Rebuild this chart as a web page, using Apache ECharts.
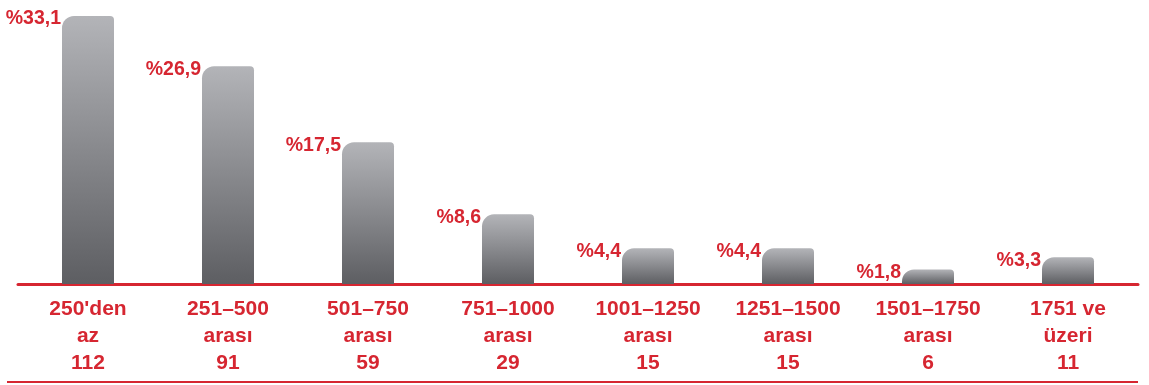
<!DOCTYPE html>
<html>
<head>
<meta charset="utf-8">
<script src="https://cdn.jsdelivr.net/npm/echarts@6/dist/echarts.min.js"></script>
<style>
html,body{margin:0;padding:0;background:#fff;}
#c{width:1149px;height:385px;}
</style>
</head>
<body>
<div id="c"></div>
<script>
const ranges = ["250'den", "251–500", "501–750", "751–1000", "1001–1250", "1251–1500", "1501–1750", "1751 ve"];
const rangeSuffix = ["az", "arası", "arası", "arası", "arası", "arası", "arası", "üzeri"];
const counts = [112, 91, 59, 29, 15, 15, 6, 11];
const percents = [33.1, 26.9, 17.5, 8.6, 4.4, 4.4, 1.8, 3.3];

const RED = '#d62631';
const FONT = 'Liberation Sans';

const categories = ranges.map((r, i) => r + '\n' + rangeSuffix[i] + '\n' + counts[i]);

const chart = echarts.init(document.getElementById('c'), null, {renderer: 'canvas'});
chart.setOption({
  animation: false,
  backgroundColor: '#fff',
  grid: {left: 18, right: 11, top: 16, bottom: 101, containLabel: false},
  xAxis: {
    type: 'category',
    data: categories,
    axisLine: {lineStyle: {color: RED, width: 3}},
    axisTick: {show: false},
    axisLabel: {
      color: RED, fontFamily: FONT, fontWeight: 'bold', fontSize: 21,
      lineHeight: 27, margin: 12, interval: 0
    }
  },
  yAxis: {
    type: 'value', min: 0, max: 33.1,
    show: false, splitLine: {show: false}
  },
  series: [{
    type: 'bar',
    data: percents,
    barWidth: 52,
    itemStyle: {
      borderRadius: [12, 4, 0, 0],
      color: new echarts.graphic.LinearGradient(0, 0, 0, 1, [
        {offset: 0, color: '#b3b4b8'},
        {offset: 1, color: '#5d5e62'}
      ])
    },
    label: {
      show: true,
      position: [-1, 3],
      align: 'right',
      verticalAlign: 'middle',
      color: RED, fontFamily: FONT, fontWeight: 'bold', fontSize: 19.5,
      formatter: p => '%' + String(p.value).replace('.', ',')
    }
  }],
  graphic: [{
    type: 'line',
    shape: {x1: 7, y1: 382, x2: 1138, y2: 382},
    style: {stroke: RED, lineWidth: 2}
  }]
});
</script>
</body>
</html>
